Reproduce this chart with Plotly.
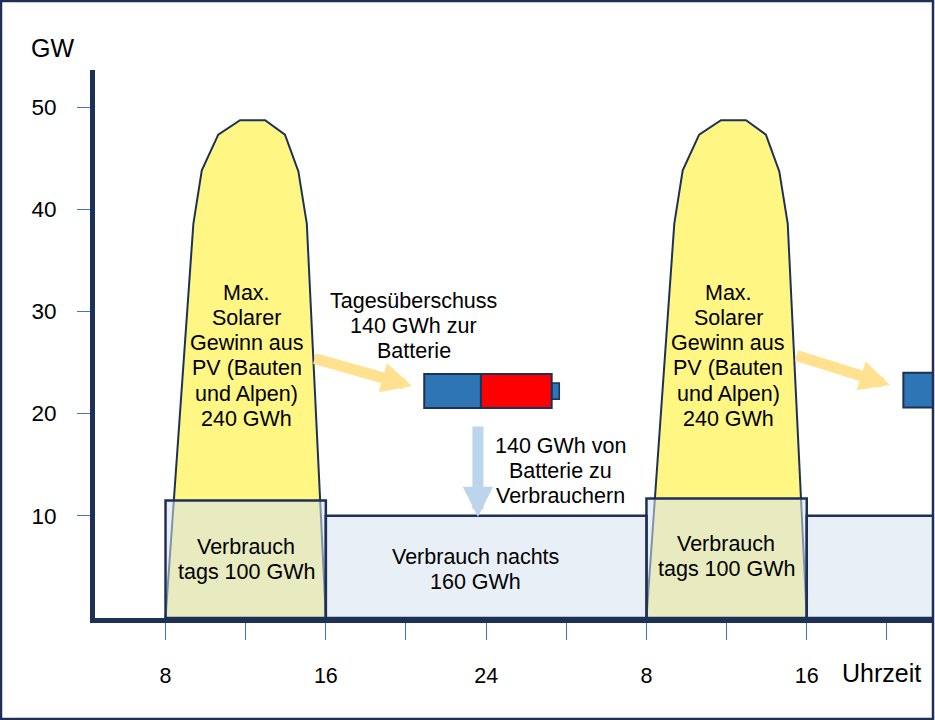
"""
Solarer Tagesüberschuss und Batterie-Speicher (Tag / Nacht)
Nachbau als Plotly-Diagramm.
"""
import plotly.graph_objects as go

# ── Daten ────────────────────────────────────────────────────────────────
# Zeitachse fortlaufend in Stunden (8 ... 40 = zwei Tage)
HOUR_RANGE = [4.48, 46.3]
GW_RANGE = [0, 53.62]

Y_TICKS = [10, 20, 30, 40, 50]
X_TICKS = [8, 12, 16, 20, 24, 28, 32, 36, 40, 44]
X_TICK_TEXT = ["8", "", "16", "", "24", "", "8", "", "16", ""]

# Solarkurve erster Tag; zweiter Tag um 24 h verschoben
SOLAR_HOURS = [8.0, 9.39, 9.81, 10.63, 11.72, 12.97, 13.96, 14.63, 15.05, 16.0]
SOLAR_GW = [0, 38.6, 43.8, 47.3, 48.7, 48.7, 47.3, 43.7, 38.6, 0]
DAY_OFFSETS = [0, 24]

# Verbrauchsblöcke
DAY_START = [8, 32]
DAY_END = [16, 40]
DAY_GW = [11.5, 11.7]
NIGHT_START = [16, 40]
NIGHT_END = [32, 56]
NIGHT_GW = [10, 10]

# Batterie (blau = geladen, rot = leer)
BAT_LEFT = [20.91, 44.82]
BAT_SPLIT = [23.74, 47.65]
BAT_RIGHT = [27.27, 51.18]
BAT_POLE = [27.65, 51.56]
BAT_BOTTOM = [20.55, 20.6]
BAT_TOP = [23.87, 24.0]
POLE_BOTTOM = [21.4, 21.45]
POLE_TOP = [23.0, 23.1]

# Pfeile: (von, nach) in (Stunde, GW)
SUN_ARROWS = [((15.36, 25.44), (20.3, 22.7)), ((39.41, 25.73), (44.15, 22.8))]
BAT_ARROW = ((23.59, 18.88), (23.59, 9.88))

# Beschriftungen: (x, y erste Zeile, Zeilen)
LINE_STEP = 2.46
SOLAR_LINES = ["Max.", "Solarer", "Gewinn aus", "PV (Bauten", "und Alpen)", "240 GWh"]
TEXT_BLOCKS = [
    (12.06, 31.8, SOLAR_LINES),
    (36.07, 31.8, SOLAR_LINES),
    (20.39, 31.0, ["Tagesüberschuss", "140 GWh zur", "Batterie"]),
    (27.69, 16.86, ["140 GWh von", "Batterie zu", "Verbrauchern"]),
    (12.03, 6.98, ["Verbrauch", "tags 100 GWh"]),
    (35.98, 7.21, ["Verbrauch", "tags 100 GWh"]),
    (23.49, 6.0, ["Verbrauch nachts", "160 GWh"]),
]
# Achsentitel außerhalb des Bereichs (Stunde, GW)
UNIT_LABELS = [(2.34, 55.77, "GW"), (43.74, -5.41, "Uhrzeit")]

# ── Stil ────────────────────────────────────────────────────────────────
NAVY = "#1d3157"
TICK_BLUE = "#4472c4"
SUN_YELLOW = "#fff683"
BOX_FILL = "rgba(214,226,240,0.55)"
ARROW_YELLOW = "#ffe190"
ARROW_BLUE = "#bcd4ec"
FONT = "Arial, Liberation Sans, sans-serif"

W, H = 935, 720
MARGIN = dict(l=95, r=2, t=70, b=102)
plot_w = W - MARGIN["l"] - MARGIN["r"]
plot_h = H - MARGIN["t"] - MARGIN["b"]


def to_paper(h, gw):
    px = (h - HOUR_RANGE[0]) / (HOUR_RANGE[1] - HOUR_RANGE[0])
    py = (gw - GW_RANGE[0]) / (GW_RANGE[1] - GW_RANGE[0])
    return px, py


fig = go.Figure()

# Solarkurven
for off in DAY_OFFSETS:
    fig.add_trace(go.Scatter(
        x=[h + off for h in SOLAR_HOURS], y=SOLAR_GW,
        mode="lines", fill="toself", fillcolor=SUN_YELLOW,
        line=dict(color=NAVY, width=2), hoverinfo="skip",
    ))

# Verbrauch Tag / Nacht
for x0s, x1s, tops in [(DAY_START, DAY_END, DAY_GW), (NIGHT_START, NIGHT_END, NIGHT_GW)]:
    for x0, x1, top in zip(x0s, x1s, tops):
        fig.add_trace(go.Scatter(
            x=[x0, x0, x1, x1, x0], y=[0, top, top, 0, 0],
            mode="lines", fill="toself", fillcolor=BOX_FILL,
            line=dict(color=NAVY, width=2.5), hoverinfo="skip",
        ))

# Batterien
for i in range(len(BAT_LEFT)):
    fig.add_shape(type="rect", xref="x", yref="y",
                  x0=BAT_RIGHT[i], x1=BAT_POLE[i], y0=POLE_BOTTOM[i], y1=POLE_TOP[i],
                  fillcolor="#2e75b6", line=dict(color=NAVY, width=1.5))
    fig.add_shape(type="rect", xref="x", yref="y",
                  x0=BAT_LEFT[i], x1=BAT_SPLIT[i], y0=BAT_BOTTOM[i], y1=BAT_TOP[i],
                  fillcolor="#2e75b6", line=dict(color=NAVY, width=2))
    fig.add_shape(type="rect", xref="x", yref="y",
                  x0=BAT_SPLIT[i], x1=BAT_RIGHT[i], y0=BAT_BOTTOM[i], y1=BAT_TOP[i],
                  fillcolor="#ff0000", line=dict(color=NAVY, width=2))

# Pfeile
for (fx, fy), (tx, ty) in SUN_ARROWS:
    fig.add_annotation(x=tx, y=ty, ax=fx, ay=fy, axref="x", ayref="y", text="",
                       showarrow=True, arrowhead=2, arrowsize=0.55, arrowwidth=11,
                       arrowcolor=ARROW_YELLOW)
(fx, fy), (tx, ty) = BAT_ARROW
fig.add_annotation(x=tx, y=ty, ax=fx, ay=fy, axref="x", ayref="y", text="",
                   showarrow=True, arrowhead=2, arrowsize=0.55, arrowwidth=11,
                   arrowcolor=ARROW_BLUE)

# Texte
for x, y, lines in TEXT_BLOCKS:
    for k, line in enumerate(lines):
        fig.add_annotation(x=x, y=y - k * LINE_STEP, text=line, showarrow=False,
                           xanchor="center", yanchor="middle",
                           font=dict(family=FONT, size=21.5, color="black"))

# GW / Uhrzeit liegen außerhalb der Achsen -> paper-Koordinaten
for h, gw, label in UNIT_LABELS:
    px, py = to_paper(h, gw)
    fig.add_annotation(x=px, y=py, xref="paper", yref="paper", text=label,
                       showarrow=False, xanchor="center", yanchor="middle",
                       font=dict(family=FONT, size=25, color="black"))

# Rahmen um das ganze Bild
def px_x(px):
    return (px - MARGIN["l"]) / plot_w


def px_y(py):
    return (H - MARGIN["b"] - py) / plot_h


fig.add_shape(type="rect", xref="paper", yref="paper",
              x0=px_x(1), x1=px_x(933), y0=px_y(719), y1=px_y(1),
              line=dict(color=NAVY, width=2.5), fillcolor="rgba(0,0,0,0)")

fig.update_layout(
    width=W, height=H, margin=MARGIN,
    paper_bgcolor="white", plot_bgcolor="white",
    showlegend=False,
    font=dict(family=FONT, color="black"),
    xaxis=dict(range=HOUR_RANGE, showgrid=False, zeroline=False,
               showline=True, linecolor=NAVY, linewidth=5,
               ticks="outside", ticklen=17, tickwidth=1, tickcolor=TICK_BLUE,
               tickvals=X_TICKS, ticktext=X_TICK_TEXT,
               tickfont=dict(size=21.5), ticklabelstandoff=17),
    yaxis=dict(range=GW_RANGE, showgrid=False, zeroline=False,
               showline=True, linecolor=NAVY, linewidth=5,
               ticks="outside", ticklen=13, tickwidth=1, tickcolor=TICK_BLUE,
               tickvals=Y_TICKS, tickfont=dict(size=22.5), ticklabelstandoff=16),
)

# Standard-Rand des Browsers entfernen, damit das Bild bündig sitzt
fig.write_html("out.html", config={"displayModeBar": False},
               post_script="document.body.style.margin='0';")
